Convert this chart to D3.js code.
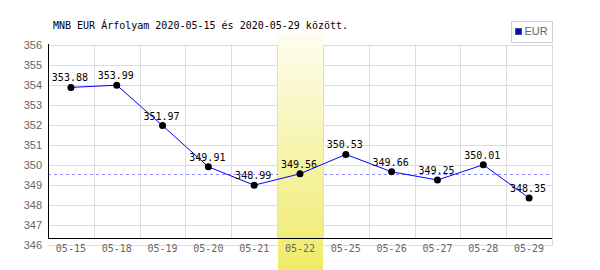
<!DOCTYPE html>
<html><head><meta charset="utf-8">
<script src="https://cdn.jsdelivr.net/npm/d3@7"></script>
<style>body{margin:0;background:#fff}svg{display:block}</style>
</head><body>
<script>
const categories = ["05-15","05-18","05-19","05-20","05-21","05-22","05-25","05-26","05-27","05-28","05-29"];
const values = [353.88,353.99,351.97,349.91,348.99,349.56,350.53,349.66,349.25,350.01,348.35];
const yTicks = [346,347,348,349,350,351,352,353,354,355,356];
const seriesName = "EUR";
const highlightCategory = "05-22";
const title = "MNB EUR Árfolyam 2020-05-15 és 2020-05-29 között.";

const W = 600, H = 270;
const svg = d3.select("body").append("svg").attr("width", W).attr("height", H);
const mono = "'DejaVu Sans Mono', monospace";
const sans = "'Liberation Sans', Arial, sans-serif";

const x = d3.scaleBand().domain(categories).range([48, 552]);
const y = d3.scaleLinear().domain([346, 356]).range([245, 45]);
const axisY = 238.5;

const defs = svg.append("defs");
const grad = defs.append("linearGradient").attr("id","hl").attr("x1",0).attr("y1",0).attr("x2",0).attr("y2",1);
grad.append("stop").attr("offset","0%").attr("stop-color","#fefdf0");
grad.append("stop").attr("offset","100%").attr("stop-color","#efeb68");

// horizontal gridlines
svg.append("g").selectAll("line").data(yTicks).join("line")
  .attr("x1", 48).attr("x2", 552.5)
  .attr("y1", d => Math.round(y(d)) + 0.5).attr("y2", d => Math.round(y(d)) + 0.5)
  .attr("stroke", "#dcdcdc");
// vertical gridlines at band boundaries
const bounds = categories.slice(1).map(c => x(c)).concat([x.range()[1]]);
svg.append("g").selectAll("line").data(bounds).join("line")
  .attr("x1", d => Math.round(d) + 0.5).attr("x2", d => Math.round(d) + 0.5)
  .attr("y1", 44.5).attr("y2", (d,i) => i === bounds.length - 1 ? 245.5 : axisY)
  .attr("stroke", "#dcdcdc");

// reference dashed line at highlighted value
const refVal = values[categories.indexOf(highlightCategory)];
svg.append("line").attr("x1", 48).attr("x2", 552)
  .attr("y1", Math.round(y(refVal)) + 0.5).attr("y2", Math.round(y(refVal)) + 0.5)
  .attr("stroke", "#8c8cff").attr("stroke-dasharray", "3,3");

// highlight band
svg.append("rect").attr("x", Math.round(x(highlightCategory)) + 1).attr("y", 33)
  .attr("width", Math.round(x.bandwidth()) - 1).attr("height", H - 33)
  .attr("fill", "url(#hl)");

// axes lines
svg.append("line").attr("x1", 48.5).attr("x2", 48.5).attr("y1", 44).attr("y2", axisY + 0.5).attr("stroke", "#000");
svg.append("line").attr("x1", 48).attr("x2", 552).attr("y1", axisY).attr("y2", axisY).attr("stroke", "#000");

// y tick labels
svg.append("g").selectAll("text").data(yTicks).join("text")
  .attr("x", 42).attr("y", d => y(d) + 1).attr("text-anchor", "end").attr("dominant-baseline", "middle")
  .attr("font-family", sans).attr("font-size", 11).attr("fill", "#666").text(d => d);

// x tick labels
svg.append("g").selectAll("text").data(categories).join("text")
  .attr("x", d => x(d) + x.bandwidth()/2).attr("y", 252).attr("text-anchor", "middle")
  .attr("font-family", mono).attr("font-size", 10).attr("fill", "#666").text(d => d);

// line
const pts = categories.map((c,i) => ({c, v: values[i]}));
svg.append("path").datum(pts)
  .attr("d", d3.line().x(d => x(d.c) + x.bandwidth()/2).y(d => y(d.v)))
  .attr("fill", "none").attr("stroke", "#0000ff").attr("stroke-width", 1);
svg.append("g").selectAll("circle").data(pts).join("circle")
  .attr("cx", d => x(d.c) + x.bandwidth()/2).attr("cy", d => y(d.v)).attr("r", 3.5).attr("fill", "#000");
svg.append("g").selectAll("text").data(pts).join("text")
  .attr("x", d => x(d.c) + x.bandwidth()/2 - 1).attr("y", d => y(d.v) - 6).attr("text-anchor", "middle")
  .attr("font-family", mono).attr("font-size", 10).attr("fill", "#000").text(d => d.v.toFixed(2));

// title
svg.append("text").attr("x", 53).attr("y", 29).attr("font-family", mono).attr("font-size", 10)
  .attr("fill", "#000").text(title);

// legend
const lg = svg.append("g");
lg.append("rect").attr("x", 511.5).attr("y", 21.5).attr("width", 41).attr("height", 21).attr("fill", "#fff").attr("stroke", "#d0d0d0");
lg.append("rect").attr("x", 515.5).attr("y", 28.5).attr("width", 6).attr("height", 6).attr("fill", "#0000ff").attr("stroke", "#555");
lg.append("text").attr("x", 524.5).attr("y", 32.5).attr("dominant-baseline", "middle")
  .attr("font-family", sans).attr("font-size", 11).attr("fill", "#666").text(seriesName);
</script>
</body></html>
